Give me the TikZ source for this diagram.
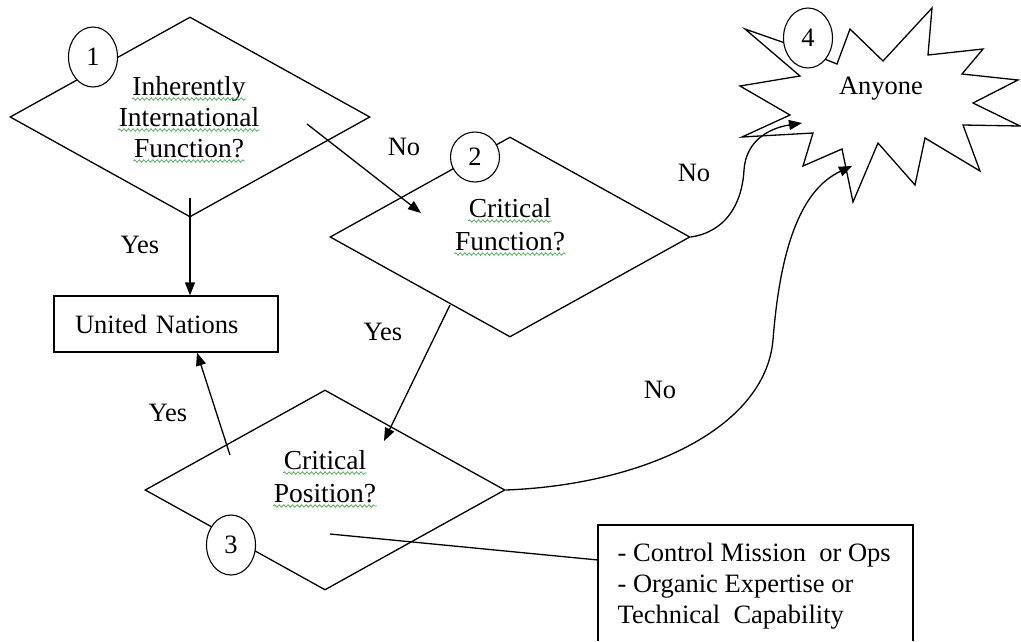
\documentclass[tikz,border=0pt]{standalone}
\usepackage{fontspec}
\setmainfont{Liberation Serif}
\usetikzlibrary{shapes.geometric,arrows.meta,decorations.pathmorphing,calc}
\definecolor{sq}{RGB}{80,175,80}
\begin{document}
\begin{tikzpicture}[x=1pt,y=-1pt,
  line width=1.3pt,
  every node/.style={font=\fontsize{26.5}{31}\selectfont, inner sep=0pt},
  dia/.style={draw, shape=diamond, minimum width=360pt, minimum height=200pt, inner sep=0pt},
  dtext/.style={anchor=base, font=\fontsize{27.5}{31}\selectfont},
  num/.style={draw, ellipse, fill=white, minimum width=49pt, minimum height=60pt, line width=1.1pt},
  arr/.style={-{Triangle[length=13pt,width=10pt]}},
  squig/.style={draw=sq, line width=0.8pt, decorate, decoration={snake, amplitude=1.2pt, segment length=4.5pt}},
  lbl/.style={font=\fontsize{26.5}{31}\selectfont}
]
\useasboundingbox (0,0) rectangle (1021,641);

% diamonds
\node[dia] (d1) at (190,117) {};
\node[dia] (d2) at (510,237) {};
\node[dia] (d3) at (325,490) {};

% diamond texts
\node[dtext] (t1a) at (189,95) {Inherently};
\node[dtext] (t1b) at (189,126) {International};
\node[dtext] (t1c) at (189,157) {Function?};
\node[dtext] (t2a) at (510,217) {Critical};
\node[dtext] (t2b) at (510,250) {Function?};
\node[dtext] (t3a) at (325,469) {Critical};
\node[dtext] (t3b) at (325,502) {Position?};
\foreach \t in {t1a,t1b,t1c,t2a,t2b,t3a,t3b}{
  \draw[squig] ([yshift=-4pt]\t.base west) -- ([yshift=-4pt]\t.base east);
}

% United Nations box
\node[draw, text width=182pt, align=left, inner xsep=21pt, inner ysep=0pt, minimum height=56pt] (un) at (166,324) {United Nations};

% note box
\node[anchor=north west, align=left] (note) at (617,542) {- Control Mission~ or Ops\\- Organic Expertise or\\Technical~ Capability};
\draw (598,641) -- (598,525) -- (913,525) -- (913,641);
\coordinate (noteedge) at (598,560);

% starburst
\draw[fill=white] (745,29) -- (785,43) -- (827,60) -- (837,64) -- (850,29) -- (883,61) -- (932,8) -- (928,55) -- (983,49) -- (962,74) -- (1018,80) -- (973,103) -- (1020,126) -- (963,125) -- (980,171) -- (925,138) -- (915,185) -- (878,143) -- (853,202) -- (842,149) -- (803,166) -- (813,133) -- (742,137) -- (790,115) -- (740,86) -- (800,76) -- cycle;
\node (any) at (881,89) {Anyone};

% number circles
\node[num] (n1) at (93,57) {1};
\node[num, minimum height=50pt] (n2) at (475,157) {2};
\node[num] (n3) at (231,545) {3};
\node[num] (n4) at (808,38) {4};

% connectors
\coordinate (a1s) at (190,198);
\draw[arr] (a1s) -- (a1s |- un.north);
\coordinate (a2s) at (307,124);
\coordinate (a2e) at (421,213);
\draw[arr] (a2s) -- (a2e);
\coordinate (a3s) at (450,305);
\coordinate (a3e) at (384,441);
\draw[arr] (a3s) -- (a3e);
\coordinate (a4s) at (230,455);
\draw[arr] (a4s) -- ([xshift=31pt]un.south);
\coordinate (s4a) at (802,123);
\coordinate (s4b) at (852,166);
\draw[arr] (d2.east) .. controls (725,232) and (742,205) .. (744,170) .. controls (746,140) and (770,128) .. (s4a);
\draw[arr] (d3.east) .. controls (640,485) and (765,430) .. (773,340) .. controls (780,250) and (800,190) .. (s4b);
\coordinate (c3n) at (330,534);
\draw (c3n) -- (noteedge);

% labels
\node[lbl] (y1) at (140,245) {Yes};
\node[lbl] (no1) at (404,147) {No};
\node[lbl] (no2) at (694,173) {No};
\node[lbl] (y2) at (383,332) {Yes};
\node[lbl] (y3) at (168,413) {Yes};
\node[lbl] (no3) at (660,390) {No};
\end{tikzpicture}
\end{document}
